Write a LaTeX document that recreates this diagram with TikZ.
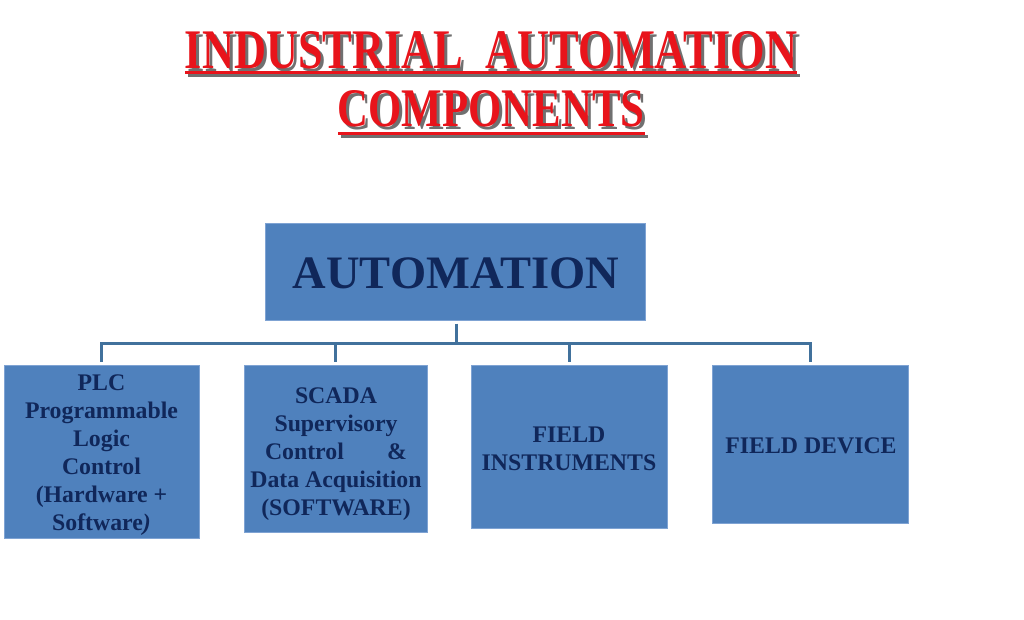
\documentclass[tikz,border=0pt]{standalone}
\usepackage{fontspec}
\setmainfont{Liberation Serif}
\usepackage{graphicx}
\definecolor{boxfill}{HTML}{4F81BD}
\definecolor{boxedge}{HTML}{7FA3D3}
\definecolor{navy}{HTML}{10275A}
\definecolor{conncol}{HTML}{41719C}
\definecolor{titlered}{HTML}{E8141B}
\definecolor{shadowgray}{HTML}{707070}
\tikzset{
  box/.style={draw=boxedge, line width=1pt, fill=boxfill, inner sep=0pt},
  boxtext/.style={inner sep=0pt, align=center, text=navy, font=\bfseries\fontsize{23.8}{28}\selectfont},
  conn/.style={draw=conncol, line width=3pt},
  ttl/.style={inner sep=0pt, text=titlered},
  ttlshadow/.style={inner sep=0pt, text=shadowgray},
}
\begin{document}
\begin{tikzpicture}[x=1pt,y=-1pt]
\useasboundingbox[fill=white] (0,0) rectangle (1024,620);
% title
\node[ttlshadow] (t1s) at (494,53) {\resizebox{612pt}{37pt}{\bfseries INDUSTRIAL\ \ AUTOMATION}};
\node[ttl] (t1) at (491,50) {\resizebox{612pt}{37pt}{\bfseries INDUSTRIAL\ \ AUTOMATION}};
\node[ttlshadow] (t2s) at (494,112) {\resizebox{307pt}{36pt}{\bfseries COMPONENTS}};
\node[ttl] (t2) at (491,109) {\resizebox{307pt}{36pt}{\bfseries COMPONENTS}};
\fill[shadowgray] (188,74) rectangle (800,77);
\fill[titlered] (185,71) rectangle (797,74);
\fill[shadowgray] (341,135) rectangle (648,138);
\fill[titlered] (338,132) rectangle (645,135);
% boxes
\node[box, minimum width=380pt, minimum height=96pt] (auto) at (455,272) {};
\node[boxtext, font=\bfseries\fontsize{46.5}{50}\selectfont] (autot) at (456,273) {AUTOMATION};
\node[box, minimum width=195pt, minimum height=173pt] (plc) at (101.5,451.5) {};
\node[boxtext] (plct) at (101.5,455)
  {PLC\\Programmable\\Logic\\Control\\(Hardware +\\Software\textit{)}};
\node[box, minimum width=183pt, minimum height=167pt] (scada) at (335.5,448.5) {};
\node[boxtext] (scadat) at (336,454)
  {SCADA\\Supervisory\\\makebox[142pt]{Control\hfill\&}\\Data Acquisition\\(SOFTWARE)};
\node[box, minimum width=196pt, minimum height=163pt] (fi) at (569,446.5) {};
\node[boxtext] (fit) at (569,449) {FIELD\\INSTRUMENTS};
\node[box, minimum width=196pt, minimum height=158pt] (fd) at (810,444) {};
\node[boxtext] (fdt) at (811,446) {FIELD DEVICE};
% connectors
\coordinate (bus) at (456,343);
\draw[conn, shorten <=3pt] (auto.south -| bus) -- (bus);
\draw[conn] ([yshift=3pt]plc.north) |- (bus) -| ([yshift=3pt]fd.north);
\draw[conn] (bus -| scada.north) -- ([yshift=3pt]scada.north);
\draw[conn] (bus -| fi.north) -- ([yshift=3pt]fi.north);
\end{tikzpicture}
\end{document}
